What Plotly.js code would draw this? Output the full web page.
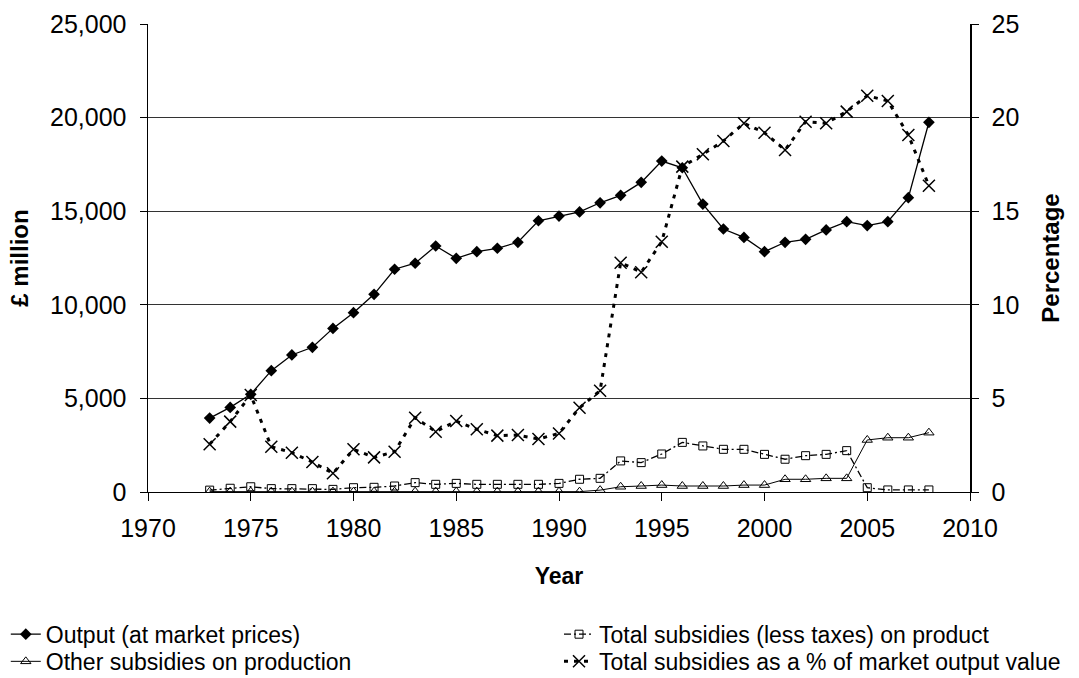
<!DOCTYPE html>
<html>
<head>
<meta charset="utf-8">
<script src="https://cdn.plot.ly/plotly-3.0.1.min.js"></script>
<style>html,body{margin:0;padding:0;background:#fff;}#chart{width:1079px;height:678px;}</style>
</head>
<body>
<div id="chart"></div>
<script>
const years = [1973,1974,1975,1976,1977,1978,1979,1980,1981,1982,1983,1984,1985,1986,1987,1988,1989,1990,1991,1992,1993,1994,1995,1996,1997,1998,1999,2000,2001,2002,2003,2004,2005,2006,2007,2008];
const outputMarket = [3950,4520,5220,6480,7320,7730,8740,9580,10560,11900,12220,13140,12480,12840,13020,13340,14490,14740,14960,15450,15850,16540,17680,17320,15380,14050,13600,12840,13340,13500,14000,14440,14230,14440,15720,19750];
const subsidiesProduct = [100,200,280,180,180,180,140,230,250,320,500,410,460,410,410,410,410,460,680,730,1660,1570,2030,2650,2460,2280,2280,2010,1750,1940,2010,2210,230,110,110,110];
const otherSubsidies = [20,20,20,20,20,20,20,20,20,20,20,20,20,20,20,20,20,20,20,100,280,320,370,320,320,320,370,370,680,680,730,730,2780,2900,2900,3170];
const subsidiesPct = [2.55,3.76,5.18,2.42,2.1,1.6,1.0,2.28,1.85,2.15,3.97,3.22,3.79,3.35,3.01,3.04,2.83,3.13,4.5,5.41,12.25,11.74,13.37,17.38,18.04,18.75,19.7,19.19,18.27,19.78,19.7,20.32,21.17,20.89,19.07,16.36];
const seriesNames = ["Output (at market prices)","Total subsidies (less taxes) on product","Other subsidies on production","Total subsidies as a % of market output value"];
const leftTicks = [0,5000,10000,15000,20000,25000];
const rightTicks = [0,5,10,15,20,25];
const xTicks = [1970,1975,1980,1985,1990,1995,2000,2005,2010];

const font = "Liberation Sans, Arial, sans-serif";
const traces = [
  {x: years, y: outputMarket, name: seriesNames[0], mode: "lines+markers", legend: "legend",
   line: {color: "#000", width: 1.3}, marker: {symbol: "diamond", size: 9, color: "#000"}},
  {x: years, y: subsidiesProduct, name: seriesNames[1], mode: "lines+markers", legend: "legend2",
   line: {color: "#000", width: 1.3, dash: "7px,3px,2px,3px"},
   marker: {symbol: "square-open", size: 8, color: "#000", line: {width: 1}}},
  {x: years, y: otherSubsidies, name: seriesNames[2], mode: "lines+markers", legend: "legend3",
   line: {color: "#000", width: 1}, marker: {symbol: "triangle-up-open", size: 9, color: "#000", line: {width: 1}}},
  {x: years, y: subsidiesPct, name: seriesNames[3], mode: "lines+markers", yaxis: "y2", legend: "legend4",
   line: {color: "#000", width: 3, dash: "4px,6px"},
   marker: {symbol: "x-thin-open", size: 12, color: "#000", line: {width: 1.5, color: "#000"}}}
];
const legendBase = {orientation: "v", yanchor: "top", xanchor: "left",
  font: {size: 23, family: font}, tracegroupgap: 0, bgcolor: "rgba(0,0,0,0)", borderwidth: 0};
const L = (x, y) => Object.assign({}, legendBase, {x: x, y: y});
const layout = {
  width: 1079, height: 678,
  margin: {l: 148, r: 109, t: 24, b: 186, autoexpand: false},
  paper_bgcolor: "#fff", plot_bgcolor: "#fff",
  font: {family: font, size: 25, color: "#000"},
  showlegend: true,
  xaxis: {range: [1970, 2010], tickvals: xTicks, ticktext: xTicks.map(String),
    ticks: "outside", ticklen: 8, tickcolor: "#000", showgrid: false, zeroline: false,
    showline: true, linecolor: "#000", linewidth: 1, ticklabelstandoff: 6,
    title: {text: "<b>Year</b>", font: {size: 23}, standoff: 26}, tickfont: {size: 25}},
  yaxis: {range: [0, 25000], tickvals: leftTicks, ticktext: leftTicks.map(v => v.toLocaleString("en-US")),
    ticks: "outside", ticklen: 7, tickcolor: "#000", showgrid: true, gridcolor: "#333", gridwidth: 1,
    zeroline: false, showline: true, linecolor: "#000", linewidth: 1.5, ticklabelstandoff: 8,
    title: {text: "<b>£ million</b>", font: {size: 24}, standoff: 14}, tickfont: {size: 25}},
  yaxis2: {range: [0, 25], tickvals: rightTicks, ticktext: rightTicks.map(String), overlaying: "y", side: "right",
    ticks: "outside", ticklen: 7, tickcolor: "#000", showgrid: false, zeroline: false,
    showline: true, linecolor: "#000", linewidth: 1.5, ticklabelstandoff: 8,
    title: {text: "<b>Percentage</b>", font: {size: 24}, standoff: 24}, tickfont: {size: 25}},
  legend: L(-0.173, -0.258),
  legend2: L(0.500, -0.258),
  legend3: L(-0.173, -0.316),
  legend4: L(0.500, -0.316),
  hovermode: false
};
Plotly.newPlot("chart", traces, layout, {staticPlot: true});
</script>
</body>
</html>
